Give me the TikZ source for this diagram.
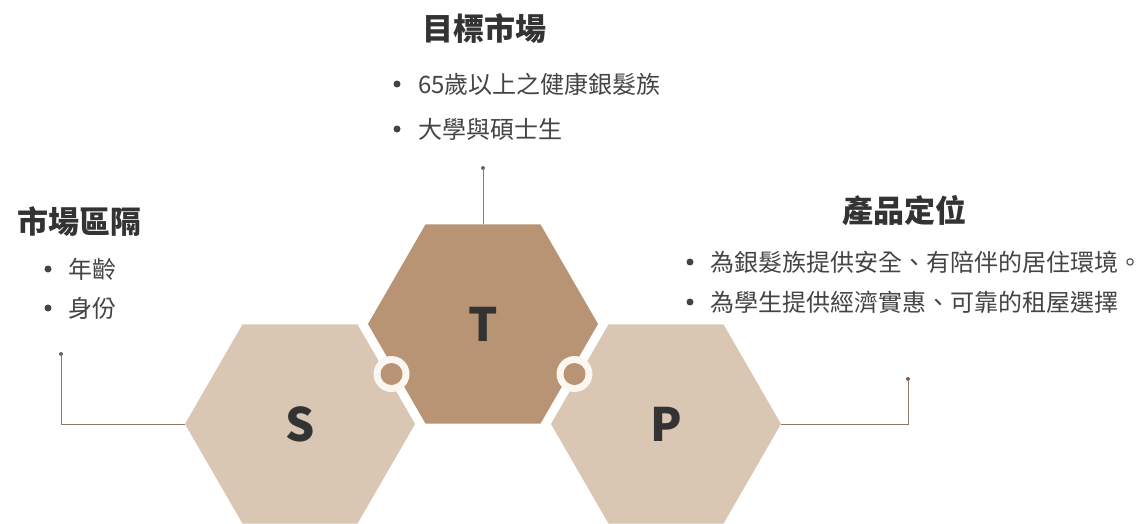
\documentclass[tikz,border=0pt]{standalone}
\usepackage{fontspec}
\setmainfont{Noto Sans CJK TC}
\usetikzlibrary{shapes.geometric}
\definecolor{hexlight}{HTML}{D9C6B3}
\definecolor{hexdark}{HTML}{B89374}
\definecolor{ringc}{HTML}{FCF6F0}
\definecolor{linec}{HTML}{8E7868}
\definecolor{txt}{HTML}{333333}
\definecolor{btxt}{HTML}{444444}
\tikzset{
  hexa/.style={regular polygon, regular polygon sides=6, minimum size=230pt, inner sep=0pt, outer sep=0pt, draw=none},
  letter/.style={font=\fontsize{46}{46}\selectfont\bfseries, text=txt},
  title/.style={font=\fontsize{31}{31}\selectfont\bfseries, text=txt, inner sep=0pt},
  item/.style={font=\fontsize{24}{24}\selectfont, text=btxt, anchor=west, inner sep=0pt},
  bul/.style={circle, fill=btxt, minimum size=7pt, inner sep=0pt},
  conn/.style={draw=linec, line width=1pt},
  dotc/.style={circle, fill=linec!80!black, minimum size=4pt, inner sep=0pt},
  ringo/.style={circle, fill=ringc, minimum size=36pt, inner sep=0pt},
  ringi/.style={circle, fill=hexdark, minimum size=22pt, inner sep=0pt}
}
\begin{document}
\begin{tikzpicture}[x=1pt,y=-1pt]
\useasboundingbox (0,0) rectangle (1148,524);
\fill[white] (0,0) rectangle (1148,524);
% hexagons
\node[hexa, fill=hexlight] (S) at (300,424) {};
\node[hexa, fill=hexdark] (T) at (483,324) {};
\node[hexa, fill=hexlight] (P) at (666,424) {};
\node[letter] (Sl) at (S.center) {S};
\node[letter] (Tl) at (T.center) {T};
\node[letter] (Pl) at (P.center) {P};
% joining rings
\node[ringo] (r1) at (391.5,374) {};
\node[ringi] (r1i) at (r1.center) {};
\node[ringo] (r2) at (574.5,374) {};
\node[ringi] (r2i) at (r2.center) {};
% connectors
\node[dotc] (dS) at (61,354) {};
\node[dotc] (dT) at (483,168) {};
\node[dotc] (dP) at (908,379) {};
\draw[conn] (S.west) -| (dS.center);
\draw[conn] (T.north) -- (dT.center);
\draw[conn] (P.east) -| (dP.center);
% titles
\node[title] (tT) at (484,29) {目標市場};
\node[title] (tS) at (79,222) {市場區隔};
\node[title] (tP) at (904,211) {產品定位};
% T items
\node[bul] (bT1) at (397,84) {};
\node[item] (iT1) at (418,84) {65歲以上之健康銀髮族};
\node[bul] (bT2) at (397,129) {};
\node[item] (iT2) at (418,129) {大學與碩士生};
% S items
\node[bul] (bS1) at (48,269) {};
\node[item] (iS1) at (68,269) {年齡};
\node[bul] (bS2) at (48,308) {};
\node[item] (iS2) at (68,308) {身份};
% P items
\node[bul] (bP1) at (690,262) {};
\node[item] (iP1) at (710,262) {為銀髮族提供安全、有陪伴的居住環境。};
\node[bul] (bP2) at (690,302) {};
\node[item] (iP2) at (710,302) {為學生提供經濟實惠、可靠的租屋選擇};
\end{tikzpicture}
\end{document}
